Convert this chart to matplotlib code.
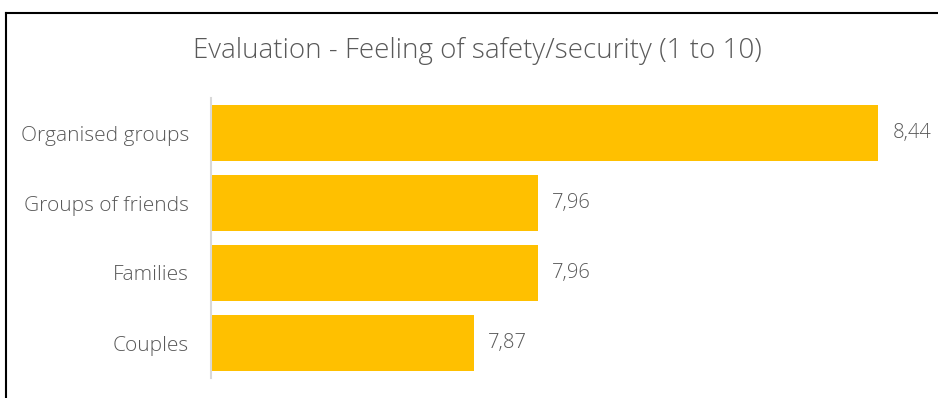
import matplotlib.pyplot as plt
from matplotlib.lines import Line2D

categories = ["Organised groups", "Groups of friends", "Families", "Couples"]
scores = [8.44, 7.96, 7.96, 7.87]
title = "Evaluation - Feeling of safety/security (1 to 10)"

plt.rcParams['font.family'] = ['Open Sans', 'DejaVu Sans']
text_color = "#595959"
bar_color = "#FFC000"

fig = plt.figure(figsize=(9.38, 3.98), dpi=100)
ax = fig.add_axes([211 / 938, 20 / 398, (921 - 211) / 938, 280 / 398])

ypos = list(range(len(categories)))
ax.barh(ypos, scores, height=0.786, color=bar_color, left=0)
ax.set_xlim(7.5, 8.5)
ax.set_ylim(len(categories) - 0.5, -0.5)

ax.set_yticks(ypos)
ax.set_yticklabels(categories, fontsize=15, color=text_color, fontweight='light')
ax.tick_params(axis='y', length=0, pad=16)
ax.set_xticks([])
for side in ("top", "right", "bottom"):
    ax.spines[side].set_visible(False)
ax.spines["left"].set_color("#D9D9D9")
ax.spines["left"].set_linewidth(1.5)

for y, v in zip(ypos, scores):
    ax.text(v + 0.02, y, f"{v:.2f}".replace(".", ","), va="center", ha="left",
            fontsize=14.5, color=text_color, fontweight='light')

fig.text(477 / 938, 1 - 51 / 398, title, ha="center", va="center",
         fontsize=20, color=text_color, fontweight='light')

# outer frame (left and top edges visible)
fig.add_artist(Line2D([6 / 938, 6 / 938], [0, 1 - 12.5 / 398],
                      transform=fig.transFigure, color="black", lw=1.5))
fig.add_artist(Line2D([6 / 938, 1], [1 - 12.5 / 398, 1 - 12.5 / 398],
                      transform=fig.transFigure, color="black", lw=1.5))

fig.savefig("out.png", dpi=100)
